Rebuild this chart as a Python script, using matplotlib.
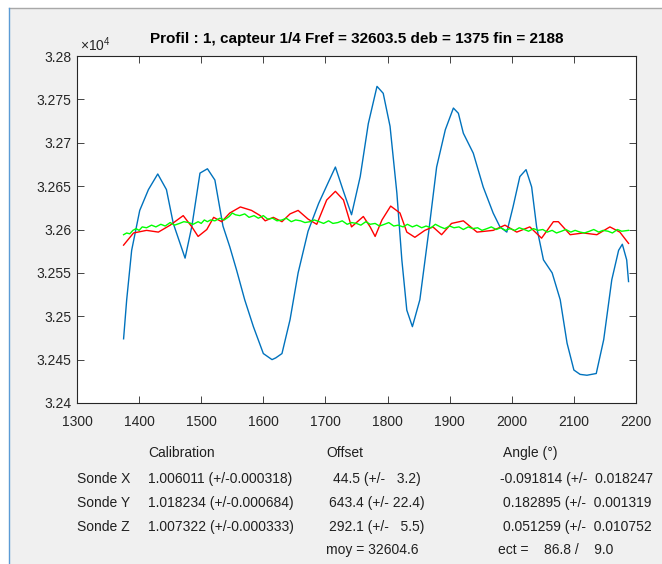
import numpy as np
import matplotlib
matplotlib.use("Agg")
import matplotlib.pyplot as plt
from matplotlib.ticker import FuncFormatter, MultipleLocator
from matplotlib.lines import Line2D

plt.rcParams['font.family'] = ['Liberation Sans', 'DejaVu Sans']

# --- profile data (sample index -> frequency) ---
blue_x = [1375, 1380, 1388, 1401, 1415, 1430, 1444, 1455, 1474, 1485, 1498, 1510,
          1522, 1535, 1546, 1557, 1570, 1584, 1600, 1614, 1620, 1630, 1643, 1656,
          1672, 1689, 1705, 1716, 1729, 1742, 1756, 1769, 1783, 1793, 1804, 1815,
          1823, 1831, 1840, 1852, 1866, 1879, 1893, 1906, 1914, 1922, 1938, 1954,
          1970, 1981, 1992, 2002, 2013, 2023, 2032, 2040, 2051, 2065, 2078, 2089,
          2100, 2110, 2121, 2136, 2148, 2161, 2172, 2178, 2185, 2188]
blue_y = [32474, 32519, 32576, 32622, 32646, 32664, 32646, 32607, 32567, 32604, 32665, 32670,
          32657, 32604, 32580, 32553, 32519, 32488, 32457, 32450, 32452, 32457, 32496, 32550,
          32598, 32630, 32655, 32672, 32644, 32617, 32661, 32722, 32765, 32757, 32719, 32642,
          32565, 32507, 32488, 32519, 32596, 32672, 32715, 32740, 32734, 32711, 32688, 32649,
          32619, 32603, 32597, 32626, 32661, 32669, 32649, 32603, 32565, 32550, 32519, 32469,
          32438, 32433, 32432, 32434, 32473, 32542, 32576, 32583, 32565, 32540]

red_x = [1375, 1391, 1412, 1431, 1450, 1471, 1485, 1495, 1509, 1520, 1533, 1546,
         1563, 1581, 1595, 1603, 1616, 1630, 1643, 1656, 1672, 1686, 1702, 1716,
         1729, 1742, 1761, 1772, 1780, 1791, 1805, 1820, 1831, 1844, 1860, 1873,
         1887, 1903, 1922, 1944, 1970, 1989, 2008, 2029, 2048, 2067, 2075, 2094,
         2115, 2137, 2158, 2174, 2188]
red_y = [32582, 32596, 32599, 32597, 32605, 32616, 32603, 32592, 32600, 32614, 32609, 32619,
         32626, 32622, 32616, 32610, 32614, 32609, 32618, 32622, 32612, 32606, 32634, 32644,
         32634, 32603, 32615, 32603, 32592, 32611, 32627, 32619, 32597, 32591, 32599, 32603,
         32594, 32607, 32610, 32597, 32599, 32605, 32597, 32603, 32590, 32609, 32609, 32594,
         32596, 32594, 32603, 32597, 32584]

green_x = [1375, 1380, 1385, 1390, 1395, 1400, 1405, 1412, 1420, 1427, 1435, 1442,
           1450, 1457, 1465, 1472, 1480, 1487, 1495, 1500, 1505, 1510, 1515, 1522,
           1530, 1537, 1545, 1550, 1555, 1562, 1570, 1577, 1585, 1592, 1600, 1607,
           1615, 1622, 1630, 1637, 1645, 1652, 1660, 1667, 1675, 1682, 1690, 1697,
           1705, 1712, 1720, 1727, 1735, 1742, 1750, 1757, 1765, 1772, 1780, 1787,
           1795, 1802, 1810, 1817, 1825, 1832, 1840, 1847, 1855, 1862, 1870, 1877,
           1885, 1892, 1900, 1907, 1915, 1922, 1930, 1937, 1945, 1952, 1960, 1967,
           1975, 1982, 1990, 1997, 2005, 2012, 2020, 2027, 2035, 2042, 2050, 2057,
           2065, 2072, 2080, 2087, 2095, 2102, 2110, 2117, 2125, 2132, 2140, 2147,
           2155, 2162, 2170, 2177, 2188]
green_y = [32594, 32596, 32595, 32599, 32601, 32599, 32603, 32602, 32605, 32603, 32606, 32604,
           32608, 32605, 32607, 32609, 32608, 32606, 32609, 32607, 32611, 32609, 32611, 32610,
           32613, 32611, 32615, 32619, 32617, 32616, 32618, 32614, 32616, 32613, 32616, 32612,
           32613, 32610, 32611, 32613, 32609, 32611, 32610, 32608, 32609, 32611, 32609, 32607,
           32610, 32607, 32608, 32610, 32606, 32608, 32607, 32605, 32609, 32606, 32607, 32604,
           32606, 32608, 32604, 32605, 32603, 32606, 32603, 32605, 32602, 32604, 32602, 32606,
           32603, 32601, 32604, 32602, 32603, 32600, 32603, 32601, 32602, 32599, 32601, 32603,
           32600, 32602, 32599, 32601, 32599, 32602, 32600, 32598, 32601, 32599, 32600, 32597,
           32599, 32596, 32598, 32600, 32597, 32599, 32597, 32596, 32598, 32600, 32597, 32599,
           32598, 32596, 32600, 32598, 32599]

title = "Profil : 1, capteur 1/4 Fref = 32603.5 deb = 1375 fin = 2188"

# results table under the plot
headers = ["Calibration", "Offset", "Angle (°)"]
probes = ["Sonde X", "Sonde Y", "Sonde Z"]
calib = ["1.006011 (+/-0.000318)", "1.018234 (+/-0.000684)", "1.007322 (+/-0.000333)"]
offset = ["44.5 (+/-   3.2)", "643.4 (+/- 22.4)", "292.1 (+/-   5.5)"]
angle = ["-0.091814 (+/-  0.018247", "0.182895 (+/-  0.001319", "0.051259 (+/-  0.010752"]
moy_txt = "moy = 32604.6"
ect_txt = "ect =    86.8 /    9.0"

W, H = 662, 564
fig = plt.figure(figsize=(W / 100, H / 100), dpi=100, facecolor='#f0f0f0')

# window frame
fig.patches.append(plt.Rectangle((0, 0), 9 / W, 1, transform=fig.transFigure,
                                 facecolor='white', edgecolor='none', zorder=-5))
fig.patches.append(plt.Rectangle((0, 1 - 8 / H), 1, 8 / H, transform=fig.transFigure,
                                 facecolor='white', edgecolor='none', zorder=-5))
fig.lines.append(Line2D([9 / W, 1], [1 - 8 / H, 1 - 8 / H], transform=fig.transFigure,
                        color='#a8a8a8', lw=1))
fig.lines.append(Line2D([9 / W, 9 / W], [0, 1 - 8 / H], transform=fig.transFigure,
                        color='#5b9bd5', lw=1))

ax = fig.add_axes([77 / W, 1 - 403 / H, (636 - 77) / W, (403 - 56) / H])
ax.plot(blue_x, blue_y, color='#0072BD', lw=1.0)
ax.plot(red_x, red_y, color='#FF0000', lw=1.0)
ax.plot(green_x, green_y, color='#00FF00', lw=1.0)

ax.set_xlim(1300, 2200)
ax.set_ylim(32400, 32800)
ax.xaxis.set_major_locator(MultipleLocator(100))
ax.yaxis.set_major_locator(MultipleLocator(50))
ax.yaxis.set_major_formatter(FuncFormatter(lambda v, p: '%g' % (v / 1e4)))
ax.tick_params(direction='in', top=True, right=True, length=5, width=0.6,
               labelsize=10, colors='#262626', pad=4)
ax.tick_params(axis='x', pad=9)
for s in ax.spines.values():
    s.set_color('#262626')
    s.set_linewidth(0.8)

ax.set_title(title, fontsize=11, fontweight='bold', color='black', pad=9)
ax.text(0.005, 1.005, r'$\mathregular{\times 10^{4}}$', transform=ax.transAxes,
        fontsize=10, color='#262626', ha='left', va='bottom')


def put(px, py, s):
    fig.text(px / W, 1 - py / H, s, fontsize=10, color='#202020', ha='left', va='center')


put(148, 453, headers[0])
put(326, 453, headers[1])
put(503, 453, headers[2])
rows = [479, 503, 527]
off_x = [333, 329, 329]
ang_x = [500, 503, 503]
for i in range(3):
    put(77, rows[i], probes[i])
    put(148, rows[i], calib[i])
    put(off_x[i], rows[i], offset[i])
    put(ang_x[i], rows[i], angle[i])
put(326, 550, moy_txt)
put(498, 550, ect_txt)

fig.savefig('out.png', dpi=100, facecolor=fig.get_facecolor())
